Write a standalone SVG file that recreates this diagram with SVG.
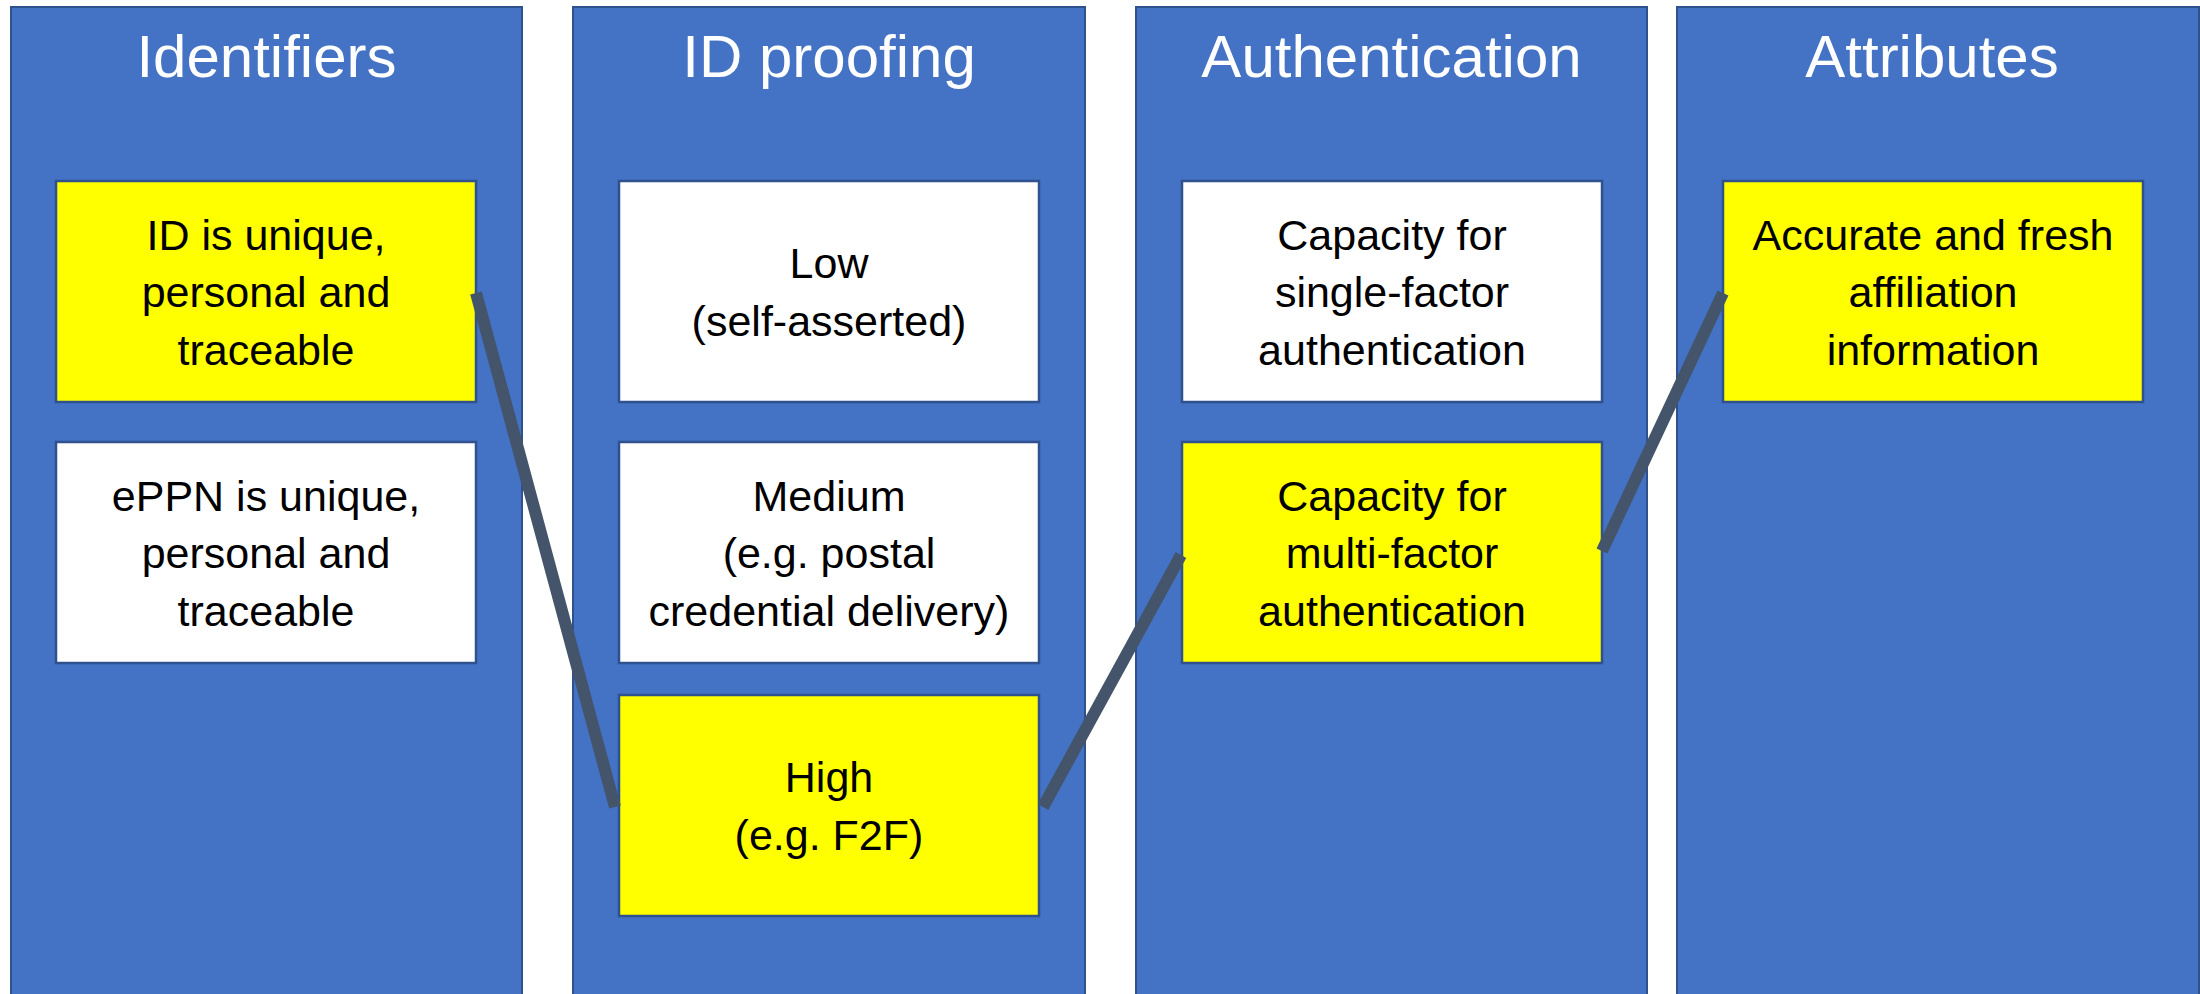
<svg xmlns="http://www.w3.org/2000/svg" width="2200" height="994" viewBox="0 0 2200 994">
<style>
.col{fill:#4472C4;stroke:#2F528F;stroke-width:2}
.box{stroke:#2F528F;stroke-width:2.5}
.w{fill:#FFFFFF}
.y{fill:#FFFF00}
.title{font-family:"Liberation Sans",Arial,sans-serif;font-size:60px;fill:#FFFFFF;text-anchor:middle}
.t{font-family:"Liberation Sans",Arial,sans-serif;font-size:43px;fill:#000000;text-anchor:middle}
.con{stroke:#44546A;stroke-width:12;fill:none;stroke-linecap:butt}
</style>
<rect width="2200" height="994" fill="#FFFFFF"/>
<g id="col-identifiers">
<rect class="col" x="11" y="7" width="511" height="1000"/>
<text class="title" x="266.5" y="77">Identifiers</text>
</g>
<g id="col-idproofing">
<rect class="col" x="573" y="7" width="512" height="1000"/>
<text class="title" x="829" y="77">ID proofing</text>
</g>
<g id="col-authentication">
<rect class="col" x="1136" y="7" width="511" height="1000"/>
<text class="title" x="1391.5" y="77">Authentication</text>
</g>
<g id="col-attributes">
<rect class="col" x="1677" y="7" width="522" height="1000"/>
<text class="title" x="1932" y="77">Attributes</text>
</g>
<g id="box-id-unique">
<rect class="box y" x="56" y="181" width="420" height="221"/>
<text class="t" x="266" y="249.5">ID is unique,</text>
<text class="t" x="266" y="307">personal and</text>
<text class="t" x="266" y="364.5">traceable</text>
</g>
<g id="box-eppn">
<rect class="box w" x="56" y="442" width="420" height="221"/>
<text class="t" x="266" y="510.5">ePPN is unique,</text>
<text class="t" x="266" y="568">personal and</text>
<text class="t" x="266" y="625.5">traceable</text>
</g>
<g id="box-low">
<rect class="box w" x="619" y="181" width="420" height="221"/>
<text class="t" x="829" y="278">Low</text>
<text class="t" x="829" y="335.5">(self-asserted)</text>
</g>
<g id="box-medium">
<rect class="box w" x="619" y="442" width="420" height="221"/>
<text class="t" x="829" y="510.5">Medium</text>
<text class="t" x="829" y="568">(e.g. postal</text>
<text class="t" x="829" y="625.5">credential delivery)</text>
</g>
<g id="box-high">
<rect class="box y" x="619" y="695" width="420" height="221"/>
<text class="t" x="829" y="792">High</text>
<text class="t" x="829" y="849.5">(e.g. F2F)</text>
</g>
<g id="box-single">
<rect class="box w" x="1182" y="181" width="420" height="221"/>
<text class="t" x="1392" y="249.5">Capacity for</text>
<text class="t" x="1392" y="307">single-factor</text>
<text class="t" x="1392" y="364.5">authentication</text>
</g>
<g id="box-multi">
<rect class="box y" x="1182" y="442" width="420" height="221"/>
<text class="t" x="1392" y="510.5">Capacity for</text>
<text class="t" x="1392" y="568">multi-factor</text>
<text class="t" x="1392" y="625.5">authentication</text>
</g>
<g id="box-accurate">
<rect class="box y" x="1723" y="181" width="420" height="221"/>
<text class="t" x="1933" y="249.5">Accurate and fresh</text>
<text class="t" x="1933" y="307">affiliation</text>
<text class="t" x="1933" y="364.5">information</text>
</g>
<g id="connectors">
<line class="con" x1="476" y1="293" x2="615" y2="807"/>
<line class="con" x1="1043" y1="807" x2="1181" y2="555"/>
<line class="con" x1="1602" y1="551" x2="1723" y2="293"/>
</g>
</svg>
